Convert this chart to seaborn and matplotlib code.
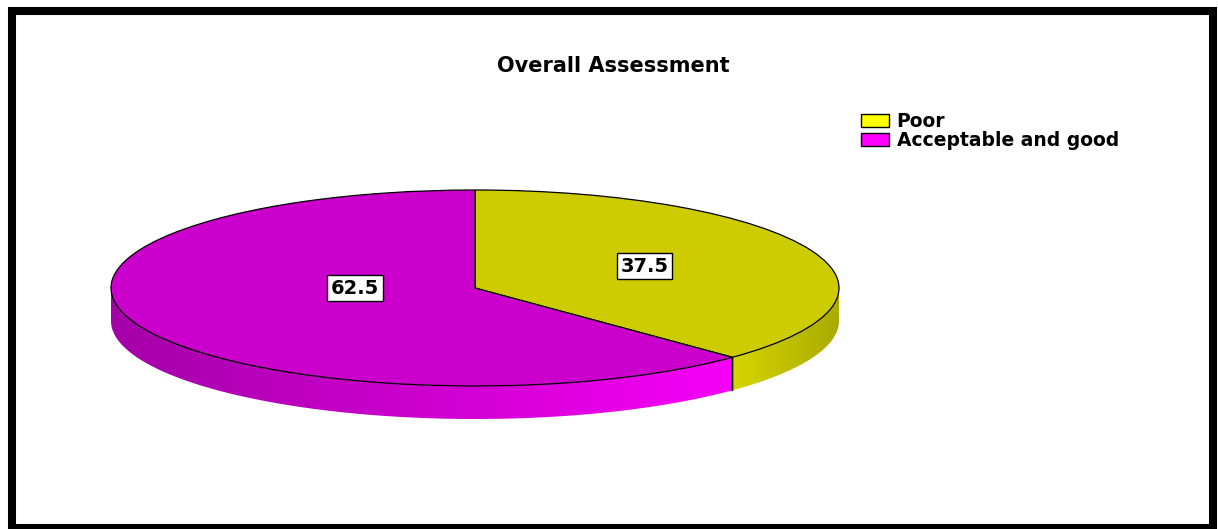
import numpy as np
import matplotlib
matplotlib.use("Agg")
import matplotlib.pyplot as plt
import seaborn as sns
from matplotlib.patches import Polygon, Rectangle, Patch
from matplotlib.colors import LinearSegmentedColormap

# ---- data ----
categories = ["Poor", "Acceptable and good"]
values = [37.5, 62.5]
value_labels = ["37.5", "62.5"]
title = "Overall Assessment"

# ---- style ----
top_colors = ["#cccc00", "#cc00cc"]
legend_colors = ["#ffff00", "#ff00ff"]
side_colors = [("#d6d600", "#aaaa00"), ("#a400a8", "#f600f6")]

sns.set_style("white")
plt.rcParams["font.family"] = ["DejaVu Sans"]
plt.rcParams["text.color"] = "black"

W, H = 1218, 529
fig = plt.figure(figsize=(W / 100, H / 100), dpi=100)
fig.patch.set_facecolor("white")

# pie geometry in pixels
cx, cy, rx, ry, depth = 475, 288, 364, 98, 33
left = (cx - rx) / W
width = 2 * rx / W
bottom = (H - (cy + ry + depth)) / H
height = (2 * ry + depth) / H
ax = fig.add_axes([left, bottom, width, height])
d = depth / ry

wedges, _ = ax.pie(values, colors=top_colors, startangle=90, counterclock=False,
                   radius=1, wedgeprops=dict(edgecolor="black", linewidth=0.9))
for w in wedges:
    w.set_zorder(3)
ax.set_aspect("auto")
ax.set_xlim(-1, 1)
ax.set_ylim(-1 - d, 1)
ax.axis("off")

# ---- side walls (visible lower half) ----
def lower_segments(t1, t2):
    segs = []
    for k in (-1, 0, 1):
        a = max(t1, -180 + 360 * k)
        b = min(t2, 0 + 360 * k)
        if b > a:
            segs.append((a, b))
    return segs

for w, (c0, c1) in zip(wedges, side_colors):
    for a, b in lower_segments(w.theta1, w.theta2):
        t = np.radians(np.linspace(a, b, 200))
        top = np.column_stack([np.cos(t), np.sin(t)])
        bot = np.column_stack([np.cos(t[::-1]), np.sin(t[::-1]) - d])
        pts = np.vstack([top, bot])
        poly = Polygon(pts, closed=True, facecolor="none", edgecolor="none", zorder=1)
        ax.add_patch(poly)
        cmap = LinearSegmentedColormap.from_list("g", [c0, c1])
        xmin, xmax = pts[:, 0].min(), pts[:, 0].max()
        grad = np.linspace(0, 1, 256).reshape(1, -1)
        im = ax.imshow(grad, cmap=cmap, aspect="auto",
                       extent=[xmin, xmax, -1 - d, 0.05], zorder=1, interpolation="bilinear")
        im.set_clip_path(poly)
    # boundary lines on the side
    for ang in (w.theta1, w.theta2):
        s = np.sin(np.radians(ang))
        c = np.cos(np.radians(ang))
        if s < -1e-6:
            ax.plot([c, c], [s, s - d], color="black", lw=1.0, zorder=2)

ax.set_xlim(-1, 1)
ax.set_ylim(-1 - d, 1)

# ---- value labels ----
label_xy = [(0.466, 0.224), (-0.33, 0.0)]
for (x, y), lab in zip(label_xy, value_labels):
    ax.text(x, y, lab, ha="center", va="center", fontsize=14, fontweight="bold",
            color="black", zorder=5,
            bbox=dict(boxstyle="square,pad=0.18", fc="white", ec="black", lw=1.0))

# ---- title ----
fig.text(613 / W, 1 - 66 / H, title, ha="center", va="center",
         fontsize=15, fontweight="bold", color="black")

# ---- legend ----
handles = [Patch(facecolor=c, edgecolor="black", linewidth=1.0) for c in legend_colors]
leg = fig.legend(handles, categories, loc="upper left",
                 bbox_to_anchor=(861 / W, 1 - 112 / H), frameon=False,
                 prop=dict(size=13.5, weight="bold"), handlelength=1.5, handleheight=0.75,
                 handletextpad=0.4, labelspacing=0.0, borderpad=0, borderaxespad=0)
for txt in leg.get_texts():
    txt.set_color("black")

# ---- outer frame ----
fig.patches.append(Rectangle((12 / W, 1 - 528 / H), (1213 - 12) / W, (528 - 11) / H,
                             transform=fig.transFigure, fill=False,
                             edgecolor="black", linewidth=5.8))

fig.savefig("out.png", dpi=100, facecolor="white")
